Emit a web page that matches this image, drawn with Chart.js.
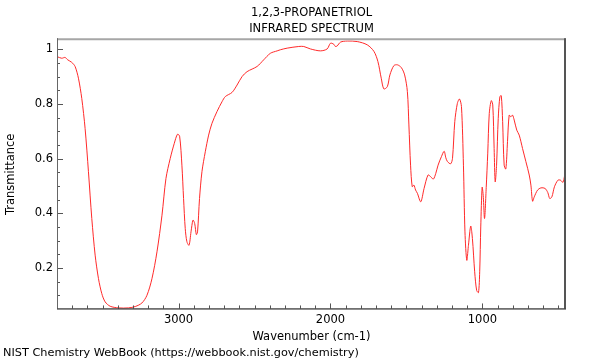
<!DOCTYPE html>
<html>
<head>
<meta charset="utf-8">
<script src="https://cdn.jsdelivr.net/npm/chart.js@4/dist/chart.umd.min.js"></script>
<style>
html,body{margin:0;padding:0;background:#fff;}
#wrap{width:600px;height:360px;position:relative;}
</style>
</head>
<body>
<div id="wrap"><canvas id="c" width="600" height="360"></canvas></div>
<script>
const titleLines = ["1,2,3-PROPANETRIOL", "INFRARED SPECTRUM"];
const xTitle = "Wavenumber (cm-1)";
const yTitle = "Transmittance";
const footer = "NIST Chemistry WebBook (https://webbook.nist.gov/chemistry)";
const xTickLabels = [3000, 2000, 1000];
const yTickLabels = [0.2, 0.4, 0.6, 0.8, 1];

const wavenumbers = [
3800,3769,3747,3729,3703,3681,3659,3637,3615,3593,3571,3549,3527,3505,3483,3450,3396,3330,3285,3241,
3208,3175,3142,3109,3083,3055,3028,3007,2993,2978,2967,2956,2945,2931,2918,2905,2894,2883,2875,2862,
2846,2824,2802,2780,2747,2714,2692,2648,2615,2582,2549,2483,2440,2396,2351,2330,2285,2209,2176,2132,
2066,2022,2000,1978,1968,1956,1934,1890,1824,1758,1714,1688,1666,1649,1626,1609,1583,1560,1534,1512,
1494,1484,1473,1462,1451,1440,1428,1406,1384,1358,1341,1323,1307,1292,1270,1252,1241,1230,1209,1197,
1182,1165,1151,1138,1125,1115,1103,1092,1077,1066,1051,1038,1026,1018,1011,1002,995,986,975,965,
955,942,932,923,916,907,896,885,876,867,857,846,835,824,813,802,791,774,758,736,
714,692,681,670,659,637,615,588,570,557,543,526,503,486,470,459,450
];
const transmittance = [
0.973,0.967,0.970,0.961,0.952,0.937,0.894,0.820,0.710,0.552,0.381,0.247,0.161,0.106,0.076,0.060,0.054,0.054,0.059,0.072,
0.100,0.161,0.259,0.393,0.527,0.600,0.656,0.689,0.682,0.576,0.454,0.344,0.296,0.283,0.332,0.375,0.363,0.322,0.332,0.454,
0.552,0.625,0.686,0.729,0.772,0.808,0.827,0.842,0.869,0.900,0.918,0.937,0.961,0.985,0.994,0.998,1.004,1.010,1.010,1.001,
0.994,1.001,1.022,1.018,1.010,1.012,1.026,1.030,1.028,1.016,0.992,0.955,0.894,0.855,0.863,0.906,0.940,0.943,0.933,0.906,
0.845,0.723,0.576,0.497,0.503,0.485,0.473,0.442,0.491,0.540,0.534,0.525,0.546,0.576,0.607,0.627,0.603,0.589,0.581,0.601,
0.735,0.802,0.818,0.790,0.576,0.332,0.228,0.283,0.353,0.308,0.186,0.118,0.110,0.186,0.350,0.495,0.466,0.381,0.495,0.620,
0.765,0.812,0.796,0.637,0.515,0.576,0.747,0.827,0.830,0.735,0.576,0.562,0.662,0.759,0.753,0.759,0.741,0.704,0.686,0.637,
0.589,0.540,0.503,0.444,0.460,0.485,0.493,0.491,0.476,0.454,0.460,0.497,0.521,0.521,0.513,0.538,0.560
];

const points = wavenumbers.map((w, i) => ({x: w, y: transmittance[i]}));
const FONT = "'DejaVu Sans', sans-serif";

const framePlugin = {
  id: 'frame',
  afterDatasetsDraw(chart) {
    const {ctx, chartArea: a, scales} = chart;
    const xs = scales.x, ys = scales.y;
    ctx.save();
    ctx.strokeStyle = '#555';
    ctx.lineWidth = 1;
    ctx.beginPath();
    for (let v = 500; v < xs.max; v += 100) {
      const px = Math.round(xs.getPixelForValue(v)) + 0.5;
      const len = (v % 1000 === 0) ? 5 : 3;
      ctx.moveTo(px, a.bottom);
      ctx.lineTo(px, a.bottom - len);
    }
    for (let k = 2; k <= 20; k++) {
      const v = k * 0.05;
      if (v < ys.min || v > ys.max) continue;
      const py = Math.round(ys.getPixelForValue(v)) + 0.5;
      const len = (k % 4 === 0) ? 6 : 3;
      ctx.moveTo(a.left, py);
      ctx.lineTo(a.left + len, py);
    }
    ctx.stroke();
    ctx.lineWidth = 2;
    ctx.strokeStyle = '#a6a6a6';
    ctx.beginPath();
    ctx.moveTo(a.left, a.top - 1);
    ctx.lineTo(a.right, a.top - 1);
    ctx.stroke();
    ctx.strokeStyle = '#555';
    ctx.beginPath();
    ctx.moveTo(a.right - 1, a.top - 2);
    ctx.lineTo(a.right - 1, a.bottom);
    ctx.stroke();
    ctx.lineWidth = 1;
    ctx.strokeStyle = '#666';
    ctx.beginPath();
    ctx.moveTo(a.left + 0.5, a.top - 2);
    ctx.lineTo(a.left + 0.5, a.bottom);
    ctx.stroke();
    ctx.strokeStyle = '#000';
    ctx.beginPath();
    ctx.moveTo(a.left, a.bottom + 0.5);
    ctx.lineTo(a.right, a.bottom + 0.5);
    ctx.stroke();
    ctx.restore();
  }
};

new Chart(document.getElementById('c'), {
  type: 'line',
  data: {
    datasets: [{
      data: points,
      borderColor: '#ff2a2a',
      borderWidth: 1,
      pointRadius: 0,
      tension: 0.3,
      fill: false
    }]
  },
  options: {
    responsive: false,
    animation: false,
    events: [],
    layout: {padding: {left: 3, right: 34, top: 0, bottom: 0}},
    plugins: {
      legend: {display: false},
      tooltip: {enabled: false},
      title: {
        display: true,
        text: titleLines,
        fullSize: false,
        color: '#000',
        font: {family: FONT, size: 11.5, weight: 'normal', lineHeight: 1.4},
        padding: {top: 5, bottom: 3}
      },
      subtitle: {
        display: true,
        text: footer,
        position: 'bottom',
        align: 'start',
        color: '#000',
        font: {family: FONT, size: 11.3, weight: 'normal', lineHeight: 1.2},
        padding: {top: 2, bottom: 0}
      }
    },
    scales: {
      x: {
        type: 'linear',
        reverse: true,
        min: 450,
        max: 3800,
        afterBuildTicks: (s) => { s.ticks = xTickLabels.map(v => ({value: v})); },
        afterFit: (s) => { s.height = 360 - 308 - 16; },
        grid: {display: false, drawTicks: false},
        border: {display: false},
        ticks: {
          color: '#000',
          font: {family: FONT, size: 11.5},
          padding: 5,
          autoSkip: false,
          maxRotation: 0,
          callback: (v) => String(v)
        },
        title: {
          display: true,
          text: xTitle,
          color: '#000',
          font: {family: FONT, size: 11.5, lineHeight: 1.2},
          padding: {top: 0, bottom: 1}
        }
      },
      y: {
        type: 'linear',
        min: 0.052,
        max: 1.033,
        afterBuildTicks: (s) => { s.ticks = yTickLabels.map(v => ({value: v})); },
        afterFit: (s) => { s.width = 54; },
        grid: {display: false, drawTicks: false},
        border: {display: false},
        ticks: {
          color: '#000',
          font: {family: FONT, size: 11.5},
          padding: 4,
          callback: (v) => String(v)
        },
        title: {
          display: true,
          text: yTitle,
          color: '#000',
          font: {family: FONT, size: 11.5, lineHeight: 1.2},
          padding: {top: 1, bottom: 0}
        }
      }
    }
  },
  plugins: [framePlugin]
});
</script>
</body>
</html>
